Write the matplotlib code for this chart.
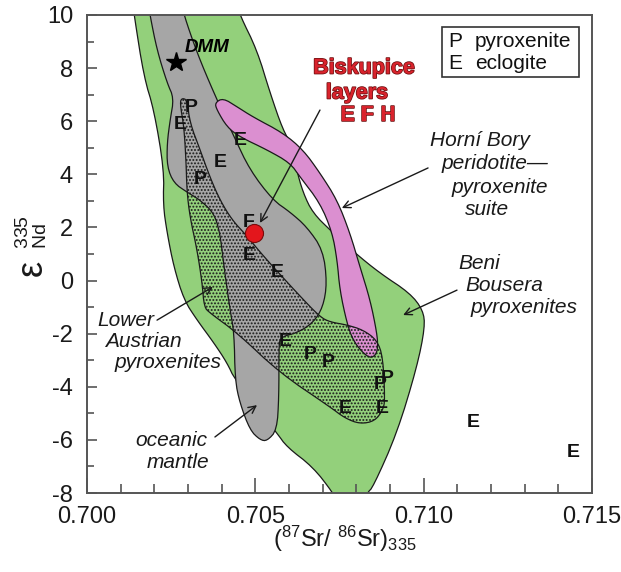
import matplotlib
matplotlib.use("Agg")
import matplotlib.pyplot as plt
import matplotlib.patheffects as pe
from matplotlib.patches import Polygon, Rectangle
from matplotlib.ticker import MultipleLocator, FixedLocator
import numpy as np

plt.rcParams['font.family'] = ['Liberation Sans', 'DejaVu Sans']
plt.rcParams['mathtext.fontset'] = 'custom'
plt.rcParams['mathtext.rm'] = 'Liberation Sans'
plt.rcParams['mathtext.it'] = 'Liberation Sans:italic'
plt.rcParams['mathtext.bf'] = 'Liberation Sans:bold'
plt.rcParams['axes.unicode_minus'] = False
plt.rcParams['hatch.linewidth'] = 0.9

# outlines of the fields (87Sr/86Sr, eNd)
beni_x = [0.70137, 0.70140, 0.70169, 0.70199, 0.70229, 0.70226, 0.70238, 0.70258, 0.70288,
          0.70327, 0.70377, 0.70416, 0.70440, 0.70564, 0.70594, 0.70671, 0.70731, 0.70745,
          0.70822, 0.70832, 0.70850, 0.70921, 0.70980, 0.71004, 0.70998, 0.70959, 0.70870,
          0.70796, 0.70728, 0.70671, 0.70642, 0.70621, 0.70609, 0.70582, 0.70544, 0.70505,
          0.70454, 0.70447]
beni_y = [10.4, 10.0, 7.67, 6.42, 4.16, 2.85, 1.79, 0.51, -0.73,
          -1.49, -2.35, -3.10, -3.75, -5.74, -6.27, -7.02, -8.0, -8.4,
          -8.4, -8.0, -7.77, -5.74, -3.26, -1.75, -1.11, -0.47, 0.28,
          1.04, 1.83, 2.54, 3.30, 4.24, 5.10, 5.67, 7.06, 8.68,
          10.0, 10.4]

ocean_x = [0.70183, 0.70187, 0.70208, 0.70238, 0.70258, 0.70247, 0.70238, 0.70238, 0.70258,
           0.70297, 0.70336, 0.70377, 0.70395, 0.70407, 0.70425, 0.70437, 0.70440, 0.70454,
           0.70484, 0.70514, 0.70535, 0.70564, 0.70570, 0.70570, 0.70573, 0.70624, 0.70671,
           0.70701, 0.70713, 0.70701, 0.70653, 0.70603, 0.70552, 0.70484, 0.70437, 0.70377,
           0.70327, 0.70288, 0.70283]
ocean_y = [10.4, 10.0, 8.68, 7.44, 6.87, 6.05, 5.18, 4.28, 3.67,
           3.33, 3.03, 2.54, 1.79, 0.51, -1.11, -1.97, -3.75, -4.61,
           -5.63, -6.00, -6.04, -5.63, -4.39, -2.62, -2.13, -1.97, -1.60,
           -1.00, -0.09, 1.15, 2.02, 2.58, 3.03, 4.16, 5.41, 7.06,
           8.57, 10.0, 10.4]

lower_x = [0.70282, 0.70297, 0.70306, 0.70336, 0.70365, 0.70395, 0.70431, 0.70472, 0.70526,
           0.70624, 0.70692, 0.70722, 0.70772, 0.70820, 0.70861, 0.70879, 0.70885, 0.70879,
           0.70855, 0.70811, 0.70766, 0.70722, 0.70573, 0.70446, 0.70365, 0.70348, 0.70342,
           0.70327, 0.70306, 0.70297, 0.70294, 0.70288, 0.70276]
lower_y = [6.87, 6.80, 5.93, 4.92, 3.90, 3.03, 2.28, 1.72, 0.89,
           -0.47, -1.37, -1.56, -1.67, -1.86, -2.24, -2.88, -4.50, -4.87,
           -5.29, -5.40, -5.18, -4.76, -3.48, -1.97, -1.22, -1.00, -0.09,
           1.15, 2.39, 3.33, 4.54, 5.78, 6.69]

horni_x = [0.70380, 0.70404, 0.70446, 0.70493, 0.70582, 0.70642, 0.70692, 0.70743, 0.70781,
           0.70811, 0.70841, 0.70861, 0.70864, 0.70858, 0.70841, 0.70817, 0.70790, 0.70772,
           0.70751, 0.70743, 0.70728, 0.70692, 0.70633, 0.70603, 0.70535, 0.70454, 0.70416,
           0.70386]
horni_y = [6.69, 6.87, 6.54, 6.16, 5.56, 4.92, 4.05, 3.03, 1.79,
           0.51, -0.73, -1.97, -2.50, -2.80, -2.92, -2.69, -2.24, -1.60,
           -0.36, 0.77, 1.83, 2.92, 3.90, 4.43, 4.92, 5.41, 5.78,
           6.42]

# samples: P = pyroxenite, E = eclogite
sample_x = [0.70309, 0.70276, 0.70454, 0.70395, 0.70336, 0.70481, 0.70564, 0.70588,
            0.70662, 0.70716, 0.70891, 0.70870, 0.70766, 0.70876, 0.71147, 0.71444]
sample_y = [6.50, 5.86, 5.29, 4.43, 3.79, 0.96, 0.32, -2.31,
            -2.80, -3.07, -3.67, -3.93, -4.80, -4.80, -5.33, -6.46]
sample_type = ['P', 'E', 'E', 'E', 'P', 'E', 'E', 'E',
               'P', 'P', 'P', 'P', 'E', 'E', 'E', 'E']

dmm_x, dmm_y = 0.70264, 8.23
bisk_x, bisk_y = 0.70496, 1.79
bisk_f_x, bisk_f_y = 0.70480, 2.17

xticks = [0.700, 0.705, 0.710, 0.715]
yticks = [-8, -6, -4, -2, 0, 2, 4, 6, 8, 10]


def smooth(xs, ys, n=2):
    p = np.column_stack([xs, ys])
    for _ in range(n):
        q = np.roll(p, -1, axis=0)
        p = np.column_stack([0.75 * p + 0.25 * q, 0.25 * p + 0.75 * q]).reshape(-1, 2)
    return p


def main():
    fig = plt.figure(figsize=(6.21, 5.72), dpi=100)
    ax = fig.add_axes([0.1401, 0.1381, 0.8132, 0.8357])
    ax.set_xlim(0.700, 0.715)
    ax.set_ylim(-8, 10)

    edge = dict(edgecolor='#1a1a1a', linewidth=0.9)
    ax.add_patch(Polygon(smooth(beni_x, beni_y), facecolor='#93d07b', zorder=1, **edge))
    ax.add_patch(Polygon(smooth(ocean_x, ocean_y), facecolor='#a6a6a6', zorder=2, **edge))
    ax.add_patch(Polygon(smooth(horni_x, horni_y), facecolor='#db8fd0', zorder=3, **edge))
    ax.add_patch(Polygon(smooth(lower_x, lower_y), facecolor='none', hatch='.....',
                         edgecolor='#1a1a1a', linewidth=0.9, zorder=4))

    for x, y, t in zip(sample_x, sample_y, sample_type):
        ax.text(x, y, t, fontsize=14, fontweight='bold', color='#111',
                ha='center', va='center', zorder=6)

    ax.text(bisk_f_x, bisk_f_y, 'F', fontsize=14, fontweight='bold', color='#111',
            ha='center', va='center', zorder=6)
    ax.plot([bisk_x], [bisk_y], 'o', ms=13, mfc='#e3161c', mec='#7a0a0a', mew=0.8, zorder=7)
    ax.plot([dmm_x], [dmm_y], '*', ms=15, color='black', zorder=7)
    ax.text(0.70291, 8.79, 'DMM', fontsize=13.5, fontweight='bold', style='italic',
            ha='left', va='center', zorder=7)

    red = dict(fontsize=15.5, fontweight='bold', color='#d9232c', ha='center', va='center',
               path_effects=[pe.withStroke(linewidth=1.1, foreground='#6e1010')])
    ax.text(0.70823, 8.00, 'Biskupice', **red)
    ax.text(0.70802, 7.06, 'layers', **red)
    ax.text(0.70835, 6.23, 'E F H', **red)

    it = dict(fontsize=15, style='italic', color='#1a1a1a', ha='left', va='center', zorder=7)
    for x, y, s in [(0.71019, 5.29, 'Horní Bory'), (0.71054, 4.39, 'peridotite—'),
                    (0.71084, 3.49, 'pyroxenite'), (0.71123, 2.66, 'suite'),
                    (0.71102, 0.66, 'Beni'), (0.71123, -0.17, 'Bousera'),
                    (0.71138, -1.00, 'pyroxenites'),
                    (0.70030, -1.49, 'Lower'), (0.70053, -2.31, 'Austrian'),
                    (0.70083, -3.10, 'pyroxenites'),
                    (0.70143, -6.04, 'oceanic'), (0.70178, -6.87, 'mantle')]:
        ax.text(x, y, s, **it)

    arr = dict(arrowstyle='->', color='#1a1a1a', lw=1.0, mutation_scale=13,
               shrinkA=0, shrinkB=0)
    for (x0, y0), (x1, y1) in [((0.70692, 6.42), (0.70514, 2.17)),
                               ((0.71013, 4.24), (0.70757, 2.73)),
                               ((0.71099, -0.36), (0.70939, -1.30)),
                               ((0.70208, -1.49), (0.70374, -0.24)),
                               ((0.70380, -5.89), (0.70505, -4.69))]:
        ax.annotate('', xy=(x1, y1), xytext=(x0, y0), arrowprops=arr, zorder=8)

    # key box
    ax.add_patch(Rectangle((0.71054, 7.67), 0.00407, 1.88, facecolor='white',
                           edgecolor='#333', linewidth=1.2, zorder=8))
    key = dict(fontsize=15, color='#111', ha='left', va='center', zorder=9)
    ax.text(0.71072, 9.02, 'P', **key)
    ax.text(0.71152, 9.02, 'pyroxenite', **key)
    ax.text(0.71072, 8.19, 'E', **key)
    ax.text(0.71152, 8.19, 'eclogite', **key)

    ax.xaxis.set_major_locator(FixedLocator(xticks))
    ax.set_xticklabels([f'{v:.3f}' for v in xticks])
    ax.xaxis.set_minor_locator(MultipleLocator(0.001))
    ax.yaxis.set_major_locator(FixedLocator(yticks))
    ax.set_yticklabels([str(v) for v in yticks])
    ax.yaxis.set_minor_locator(MultipleLocator(1))
    ax.tick_params(axis='both', which='both', direction='in', color='#555', width=1.2,
                   labelsize=17, labelcolor='#1a1a1a')
    ax.tick_params(axis='x', which='major', length=11, pad=9)
    ax.tick_params(axis='x', which='minor', length=6.5)
    ax.tick_params(axis='y', which='major', length=7, pad=10)
    ax.tick_params(axis='y', which='minor', length=5)
    for s in ax.spines.values():
        s.set_color('#555')
        s.set_linewidth(1.4)

    ax.set_xlabel(r'$(^{87}\mathrm{Sr}/\ ^{86}\mathrm{Sr})_{335}$', fontsize=17,
                  color='#1a1a1a', va='baseline')
    ax.xaxis.set_label_coords(0.51, -0.113)

    # y label: large epsilon plus stacked 335 / Nd
    ax.text(-0.109, 0.470, 'ε', transform=ax.transAxes, rotation=90, fontsize=26,
            ha='center', va='center', color='#1a1a1a')
    ax.text(-0.111, 0.545, r'${}^{335}_{\mathrm{Nd}}$', transform=ax.transAxes,
            rotation=90, fontsize=20, ha='center', va='center', color='#1a1a1a')

    fig.savefig('out.png', dpi=100)


if __name__ == "__main__":
    main()
